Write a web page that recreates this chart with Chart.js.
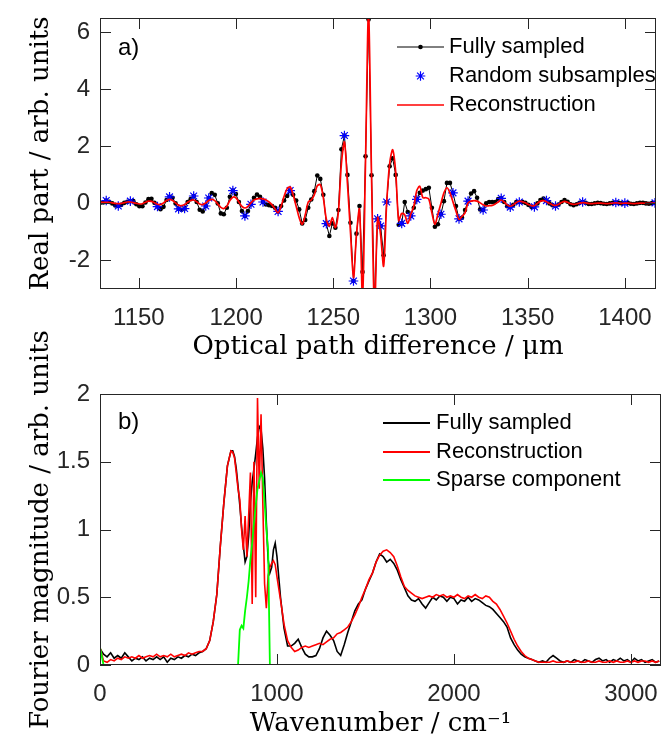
<!DOCTYPE html>
<html>
<head>
<meta charset="utf-8">
<script src="https://cdn.jsdelivr.net/npm/chart.js@4.4.1/dist/chart.umd.min.js"></script>
<style>
  html, body { margin: 0; padding: 0; background: #fff; }
  #wrap { position: relative; width: 662px; height: 740px; overflow: hidden; }
  #wrap canvas { position: absolute; left: 0; }
  #top { top: 0; }
  #bottom { top: 320px; }
</style>
</head>
<body>
<div id="wrap">
  <canvas id="top" width="662" height="370"></canvas>
  <canvas id="bottom" width="662" height="420"></canvas>
</div>
<script>
// ---- panel a): interferogram, sampled on a regular OPD grid ----
const opdStart = 1130.1;
const opdStep = 1.551;
const opdTicks = [1150, 1200, 1250, 1300, 1350, 1400];
const realTicks = [-2, 0, 2, 4, 6];

const fullySampled = [
  0.02, 0.03, 0.1, 0.06, 0.0, -0.07, -0.09, -0.05, 0.02, 0.06,
  0.08, 0.08, -0.03, -0.1, -0.1, 0.03, 0.15, 0.16, 0.02, -0.11,
  -0.2, -0.12, 0.12, 0.23, 0.2, 0.0, -0.19, -0.22, -0.18, 0.05,
  0.15, 0.26, 0.05, -0.22, -0.28, -0.09, 0.19, 0.36, 0.3, 0.0,
  -0.35, -0.38, -0.15, 0.23, 0.45, 0.33, 0.05, -0.27, -0.44, -0.27,
  -0.03, 0.2, 0.31, 0.23, 0.05, -0.04, -0.06, -0.09, -0.15, -0.28,
  -0.09, 0.1, 0.26, 0.45, 0.3, 0.1, -0.21, -0.7, -0.58, -0.15,
  0.14, 0.43, 0.98, 0.86, 0.3, -0.71, -1.14, -0.7, -0.85, -0.23,
  1.9, 2.38, 1.0, -0.68, -2.72, -1.06, -0.09, -2.4, 1.65, 6.45,
  0.99, -3.6, -0.54, -0.79, -1.82, 0.05, 1.3, 1.58, 1.0, -0.75,
  -0.7, 0.05, -0.3, -0.44, -0.15, 0.14, 0.37, 0.45, 0.5, 0.55,
  -0.15, -0.82, -0.73, -0.38, 0.08, 0.72, 0.72, 0.37, -0.09, -0.54,
  -0.5, -0.23, 0.08, 0.35, 0.43, 0.2, -0.21, -0.23, 0.0, 0.05,
  0.05, 0.05, 0.15, 0.18, 0.05, -0.1, -0.13, -0.05, 0.05, 0.05,
  0.06, 0.02, -0.05, -0.12, -0.12, 0.0, 0.12, 0.17, 0.1, 0.0,
  -0.06, -0.09, -0.04, 0.05, 0.12, 0.06, -0.03, -0.06, -0.03, 0.02,
  0.05, 0.02, -0.02, -0.02, 0.0, 0.02, 0.01, -0.01, -0.02, 0.0,
  0.02, 0.03, 0.02, 0.0, 0.01, 0.02, -0.01, -0.02, 0.0, 0.02,
  0.02, 0.0, -0.01, 0.01, 0.02
];

const reconstruction = [
  0.03, 0.04, 0.04, 0.03, 0.02, 0.0, -0.01, 0.0, 0.03, 0.05,
  0.05, 0.03, 0.0, -0.02, -0.01, 0.04, 0.08, 0.07, 0.02, -0.03,
  -0.04, 0.02, 0.1, 0.14, 0.1, 0.02, -0.06, -0.08, -0.04, 0.04,
  0.1, 0.12, 0.06, -0.02, -0.04, 0.02, 0.1, 0.14, 0.1, -0.02,
  -0.14, -0.18, -0.1, 0.1, 0.22, 0.2, 0.05, -0.1, -0.16, -0.1,
  0.02, 0.12, 0.16, 0.18, 0.16, 0.12, 0.05, -0.05, -0.2, -0.33,
  -0.1, 0.25, 0.52, 0.58, 0.3, -0.1, -0.5, -0.73, -0.4, 0.05,
  0.12, 0.3, 0.62, 0.66, 0.2, -0.55, -0.8, -0.5, -0.85, -0.3,
  1.4, 2.15, 0.7, -1.0, -2.6, -1.1, -0.2, -3.3, 1.5, 6.7,
  0.9, -3.8, -0.5, -1.1, -2.2, 0.0, 1.4, 1.88, 1.1, -0.6,
  -0.35, -0.4, -0.7, -0.38, -0.1, 0.45, 0.6, 0.2, 0.2, 0.15,
  -0.33, -0.73, -0.38, 0.0, 0.37, 0.55, 0.37, 0.05, -0.27, -0.56,
  -0.45, -0.33, 0.02, 0.08, 0.1, 0.08, 0.02, -0.05, -0.09, -0.08,
  -0.07, -0.02, 0.05, 0.12, 0.05, -0.05, -0.1, -0.05, 0.03, 0.08,
  0.06, 0.02, -0.04, -0.08, -0.08, 0.0, 0.08, 0.1, 0.06, 0.0,
  -0.05, -0.07, -0.03, 0.03, 0.07, 0.04, -0.01, -0.03, -0.02, 0.01,
  0.03, 0.02, 0.0, -0.01, 0.0, 0.01, 0.01, 0.0, -0.01, 0.0,
  0.01, 0.02, 0.01, 0.0, 0.01, 0.01, 0.0, -0.01, 0.0, 0.01,
  0.01, 0.0, 0.0, 0.01, 0.01
];

// indices of the fully sampled points that were kept as random subsamples
const subsampleIdx = [2, 6, 10, 19, 23, 26, 28, 31, 35, 36, 44, 48, 50, 54, 59, 63, 75, 81, 84,
  92, 93, 95, 100, 103, 105, 113, 117, 119, 122, 127, 133, 136, 139, 144, 148, 151, 160, 171, 174, 184];

// ---- panel b): spectra ----
const wnSegments = [[0, 720, 20], [740, 990, 10], [1000, 3160, 20]];
const wnTicks = [0, 1000, 2000, 3000];
const magTicks = [0, 0.5, 1, 1.5, 2];

const fullSpectrum = [
  0.12, 0.08, 0.06, 0.09, 0.05, 0.07, 0.05, 0.09, 0.06, 0.03,
  0.05, 0.04, 0.06, 0.03, 0.05, 0.04, 0.06, 0.04, 0.06, 0.02,
  0.05, 0.04, 0.06, 0.05, 0.07, 0.06, 0.08, 0.07, 0.09, 0.1,
  0.12, 0.18, 0.32, 0.52, 0.88, 1.2, 1.47,
  // 740 - 990 every 10
  1.58, 1.58, 1.54, 1.45, 1.32, 1.18, 1.02, 0.88, 0.76, 0.8,
  0.95, 1.2, 1.35, 1.45, 1.56, 1.68, 1.76, 1.74, 1.6, 1.38,
  1.05, 0.78, 0.68, 0.72, 0.85, 0.9,
  // 1000 - 3160 every 20
  0.8, 0.5, 0.27, 0.14, 0.14, 0.16, 0.19, 0.13, 0.08, 0.06,
  0.06, 0.07, 0.12, 0.2, 0.25, 0.22, 0.18, 0.1, 0.07, 0.15,
  0.24, 0.32, 0.4, 0.45, 0.48, 0.56, 0.62, 0.68, 0.76, 0.82,
  0.8, 0.76, 0.78, 0.75, 0.7, 0.63, 0.57, 0.51, 0.48, 0.47,
  0.49, 0.45, 0.42, 0.46, 0.5, 0.48, 0.51, 0.5, 0.47, 0.5,
  0.49, 0.45, 0.48, 0.47, 0.5, 0.47, 0.49, 0.48, 0.46, 0.44,
  0.43, 0.41, 0.38, 0.35, 0.32, 0.28, 0.2, 0.15, 0.11, 0.08,
  0.06, 0.05, 0.04, 0.03, 0.02, 0.03, 0.02, 0.05, 0.07, 0.05,
  0.03, 0.02, 0.03, 0.02, 0.04, 0.03, 0.02, 0.04, 0.03, 0.02,
  0.04, 0.05, 0.03, 0.04, 0.02, 0.04, 0.03, 0.05, 0.03, 0.04,
  0.02, 0.05, 0.03, 0.04, 0.02, 0.03, 0.04, 0.02, 0.03
];

const recSpectrum = [
  0.13, 0.03, 0.02, 0.04, 0.03, 0.05, 0.04, 0.06, 0.05, 0.06,
  0.05, 0.07, 0.05, 0.06, 0.07, 0.06, 0.08, 0.06, 0.07, 0.06,
  0.08, 0.06, 0.07, 0.08, 0.07, 0.09, 0.08, 0.09, 0.1, 0.1,
  0.12, 0.18, 0.32, 0.52, 0.88, 1.2, 1.47,
  1.58, 1.57, 1.53, 1.42, 1.3, 1.22, 1.0, 0.85, 1.1, 0.8,
  1.1, 1.42, 0.45, 1.5, 0.5, 1.97, 1.3, 1.85, 1.2, 0.6,
  0.42, 0.66, 0.72, 0.75, 0.77, 0.74,
  0.65, 0.48, 0.3, 0.18, 0.13, 0.1, 0.11, 0.13, 0.14, 0.13,
  0.14, 0.15, 0.16, 0.15, 0.17, 0.19, 0.2, 0.23, 0.24, 0.26,
  0.28, 0.32, 0.37, 0.43, 0.5, 0.56, 0.63, 0.68, 0.76, 0.81,
  0.84, 0.85, 0.83, 0.8, 0.73, 0.65, 0.58, 0.55, 0.53, 0.51,
  0.5, 0.49, 0.5, 0.51, 0.5, 0.52, 0.51, 0.52, 0.5, 0.51,
  0.5, 0.52, 0.5, 0.49, 0.51, 0.5, 0.52, 0.5, 0.49, 0.51,
  0.5, 0.47, 0.45, 0.41, 0.36, 0.31, 0.25, 0.19, 0.14, 0.1,
  0.07, 0.05, 0.04, 0.03, 0.02, 0.02, 0.02, 0.02, 0.03, 0.02,
  0.02, 0.02, 0.03, 0.02, 0.02, 0.03, 0.02, 0.02, 0.03, 0.02,
  0.02, 0.03, 0.02, 0.02, 0.03, 0.02, 0.03, 0.02, 0.02, 0.03,
  0.02, 0.03, 0.02, 0.03, 0.03, 0.02, 0.03, 0.02, 0.03
];

// sparse component is zero outside the listed points
const sparseWn = [0, 20, 780, 790, 800, 810, 820, 830, 840, 850, 860, 870, 880, 890, 900, 910, 920, 930, 940, 950, 960, 3170];
const sparseMag = [0.13, 0, 0, 0.26, 0.29, 0.27, 0.4, 0.5, 0.62, 0.78, 0.9, 1.05, 1.18, 1.3, 1.36, 1.42, 1.38, 1.2, 1.0, 0.85, 0, 0];

// ---- helpers ----
const wn = [];
wnSegments.forEach(([a, b, s]) => { for (let v = a; v <= b; v += s) wn.push(v); });
const opd = fullySampled.map((_, i) => opdStart + i * opdStep);
const pts = (xs, ys) => xs.map((x, i) => ({ x: x, y: ys[i] }));

const AXIS = '#262626';
const tickFont = { family: 'Liberation Sans', size: 24 };
const titleFont = { family: 'DejaVu Serif', size: 26 };

// box round the axes, inward ticks on all sides, panel letter and legend
const frame = {
  id: 'frame',
  afterDatasetsDraw(chart, args, opts) {
    const { ctx, chartArea: a, scales } = chart;
    const tl = 11;
    ctx.save();
    ctx.strokeStyle = AXIS;
    ctx.lineWidth = 1;
    ctx.beginPath();
    scales.x.ticks.forEach(t => {
      const px = Math.round(scales.x.getPixelForValue(t.value)) + 0.5;
      ctx.moveTo(px, a.bottom); ctx.lineTo(px, a.bottom - tl);
      ctx.moveTo(px, a.top); ctx.lineTo(px, a.top + tl);
    });
    scales.y.ticks.forEach(t => {
      const py = Math.round(scales.y.getPixelForValue(t.value)) + 0.5;
      ctx.moveTo(a.left, py); ctx.lineTo(a.left + tl, py);
      ctx.moveTo(a.right, py); ctx.lineTo(a.right - tl, py);
    });
    ctx.stroke();
    ctx.strokeRect(a.left + 0.5, a.top + 0.5, a.right - a.left - 1, a.bottom - a.top - 1);

    ctx.fillStyle = '#000';
    ctx.textBaseline = 'middle';
    ctx.textAlign = 'left';
    ctx.font = '24px "Liberation Sans"';
    ctx.fillText(opts.letter, opts.letterX, opts.letterY);

    const lg = opts.legend;
    chart.data.datasets.forEach((ds, k) => {
      const y = lg.rows[k];
      if (ds.showLine !== false) {
        ctx.strokeStyle = ds.borderColor;
        ctx.lineWidth = lg.lineWidth || ds.borderWidth;
        ctx.beginPath(); ctx.moveTo(lg.x0, y); ctx.lineTo(lg.x1, y); ctx.stroke();
      }
      if (ds.pointRadius > 0) {
        ctx.fillStyle = ds.pointBackgroundColor;
        ctx.strokeStyle = ds.pointBorderColor;
        ctx.lineWidth = ds.pointBorderWidth;
        Chart.helpers.drawPoint(ctx, {
          pointStyle: ds.pointStyle || 'circle', radius: ds.pointRadius,
          borderWidth: ds.pointBorderWidth, rotation: 0
        }, (lg.x0 + lg.x1) / 2, y);
      }
      ctx.fillStyle = '#000';
      ctx.font = '22px "Liberation Sans"';
      ctx.fillText(ds.label, lg.tx, y);
    });
    ctx.restore();
  }
};

// fixed axis sizes, no extra room for overhanging labels
const fitX = h => s => { s.height = h; s.paddingLeft = 0; s.paddingRight = 0; };
const fitY = w => s => { s.width = w; s.paddingTop = 0; s.paddingBottom = 0; };

function axis(min, max, ticks, fit, title, tpad, titlePad) {
  return {
    type: 'linear', min: min, max: max,
    afterBuildTicks: s => { s.ticks = ticks.map(v => ({ value: v })); },
    afterFit: fit,
    grid: { display: false, drawTicks: false },
    border: { display: false },
    ticks: { color: AXIS, font: tickFont, padding: tpad, autoSkip: false, maxRotation: 0, callback: v => String(v) },
    title: { display: true, text: title, color: '#000', font: titleFont, padding: titlePad }
  };
}

// ---- chart a) ----
new Chart(document.getElementById('top'), {
  type: 'line',
  data: {
    datasets: [
      {
        label: 'Fully sampled', data: pts(opd, fullySampled), order: 3,
        borderColor: '#000', borderWidth: 1, tension: 0,
        pointRadius: 2.3, pointBackgroundColor: '#000', pointBorderColor: '#000', pointBorderWidth: 0
      },
      {
        label: 'Random subsamples', data: subsampleIdx.map(i => ({ x: opd[i], y: fullySampled[i] })), order: 2,
        showLine: false, pointStyle: 'star', pointRadius: 4.8,
        pointBackgroundColor: '#0000ff', pointBorderColor: '#0000ff', pointBorderWidth: 1.2, borderColor: '#0000ff'
      },
      {
        label: 'Reconstruction', data: pts(opd, reconstruction), order: 1,
        borderColor: '#ff0000', borderWidth: 1.7, tension: 0.3, pointRadius: 0
      }
    ]
  },
  options: {
    responsive: false, animation: false, devicePixelRatio: 1, events: [],
    layout: { padding: { top: 18, right: 1, left: 0, bottom: 0 } },
    scales: {
      x: axis(1130, 1416, opdTicks, fitX(81), 'Optical path difference / μm', 15, { top: 0, bottom: 7 }),
      y: axis(-3, 6.5, realTicks, fitY(100), 'Real part / arb. units', 10, { top: 26, bottom: 0 })
    },
    plugins: {
      legend: { display: false }, tooltip: { enabled: false },
      frame: {
        letter: 'a)', letterX: 118, letterY: 48,
        legend: { x0: 397, x1: 444, tx: 449, rows: [47, 76, 105] }
      }
    }
  },
  plugins: [frame]
});

// ---- chart b) ----
new Chart(document.getElementById('bottom'), {
  type: 'line',
  data: {
    datasets: [
      { label: 'Fully sampled', data: pts(wn, fullSpectrum), order: 3, borderColor: '#000', borderWidth: 1.6, pointRadius: 0, tension: 0 },
      { label: 'Reconstruction', data: pts(wn, recSpectrum), order: 2, borderColor: '#ff0000', borderWidth: 1.6, pointRadius: 0, tension: 0 },
      { label: 'Sparse component', data: pts(sparseWn, sparseMag), order: 1, borderColor: '#00ff00', borderWidth: 1.8, pointRadius: 0, tension: 0 }
    ]
  },
  options: {
    responsive: false, animation: false, devicePixelRatio: 1, events: [],
    layout: { padding: { top: 74, right: 1, left: 0, bottom: 0 } },
    scales: {
      x: axis(0, 3170, wnTicks, fitX(75), 'Wavenumber / cm⁻¹', 15, { top: 0, bottom: 0 }),
      y: axis(0, 2, magTicks, fitY(100), 'Fourier magnitude / arb. units', 10, { top: 26, bottom: 0 })
    },
    plugins: {
      legend: { display: false }, tooltip: { enabled: false },
      frame: {
        letter: 'b)', letterX: 118, letterY: 102,
        legend: { x0: 383, x1: 430, tx: 436, rows: [103, 132, 160], lineWidth: 2 }
      }
    }
  },
  plugins: [frame]
});
</script>
</body>
</html>
